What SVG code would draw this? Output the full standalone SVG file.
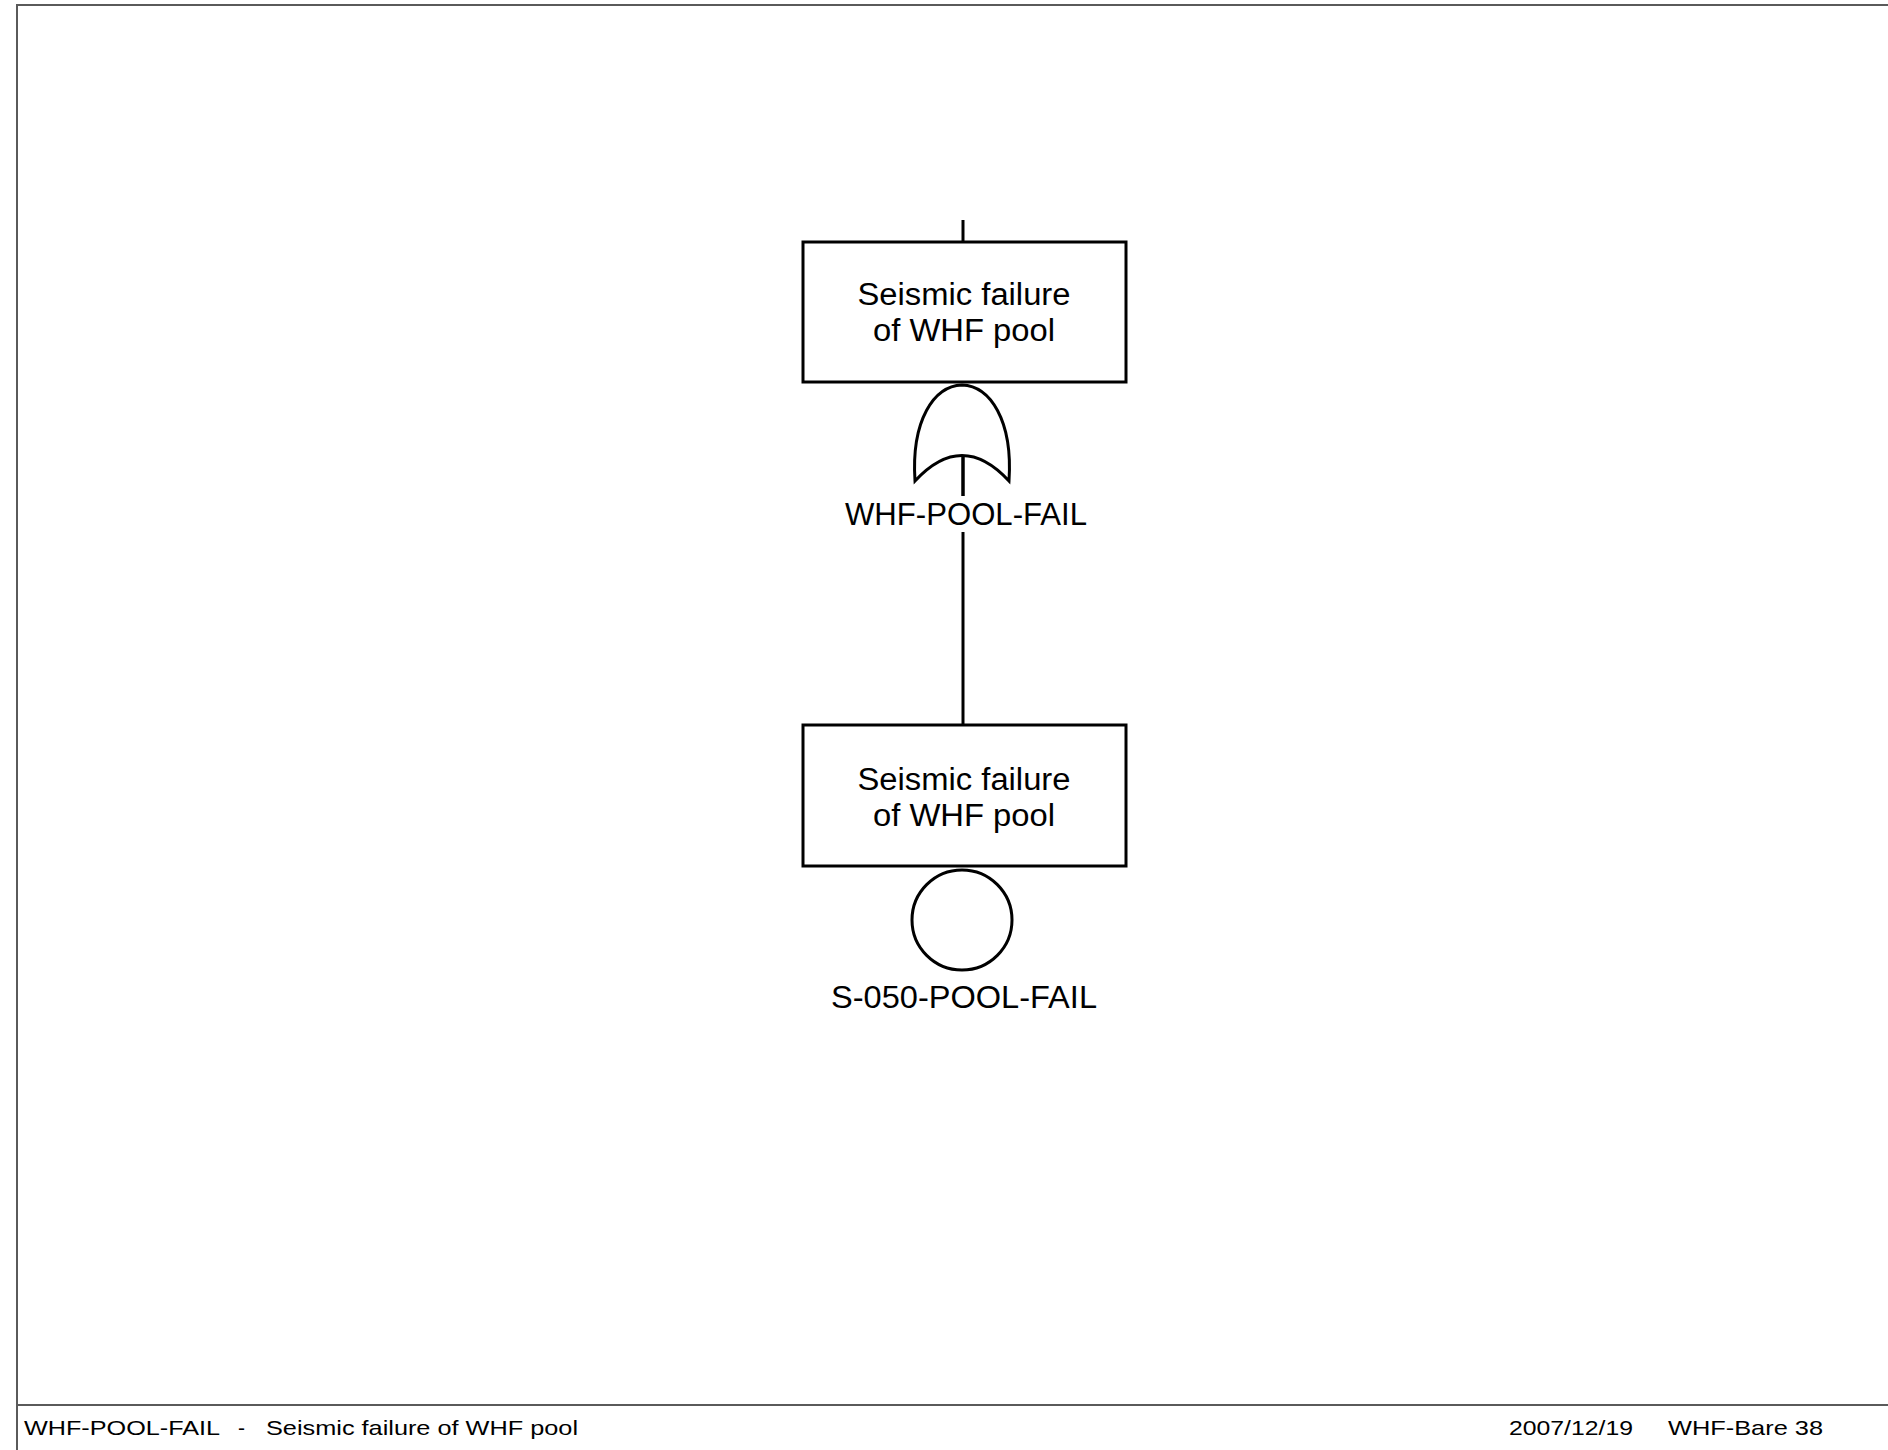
<svg xmlns="http://www.w3.org/2000/svg" width="1888" height="1450" viewBox="0 0 1888 1450">
<style>
.frame{stroke:#5a5a5a;stroke-width:2;fill:none}
.shape{stroke:#000;stroke-width:3;fill:#fff}
.conn{stroke:#000;stroke-width:3;fill:none}
.t{font-family:"Liberation Sans",Arial,sans-serif;font-size:31px;fill:#000;text-anchor:middle}
.f{font-family:"Liberation Sans",Arial,sans-serif;font-size:21px;fill:#000}
</style>
<rect width="1888" height="1450" fill="#fff"/>
<g id="frame">
<line class="frame" x1="16" y1="5" x2="1888" y2="5"/>
<line class="frame" x1="17" y1="5" x2="17" y2="1450" stroke="#8a8a8a"/>
<line class="frame" x1="16" y1="1405" x2="1888" y2="1405"/>
</g>
<g id="connectors">
<line class="conn" x1="963" y1="220" x2="963" y2="242"/>
<line class="conn" x1="963" y1="457" x2="963" y2="496"/>
<line class="conn" x1="963" y1="532" x2="963" y2="725"/>
</g>
<g id="top-event">
<rect class="shape" x="803" y="242" width="323" height="140"/>
<text class="t" x="964" y="305" textLength="213" lengthAdjust="spacingAndGlyphs">Seismic failure</text>
<text class="t" x="964" y="341" textLength="182" lengthAdjust="spacingAndGlyphs">of WHF pool</text>
</g>
<g id="or-gate">
<path class="shape" d="M915 481 C911 420 934 386 962 385 C990 386 1013 420 1009 481 Q962 430 915 481 Z"/>
<line class="conn" x1="963" y1="456" x2="963" y2="496"/>
<text class="t" x="966" y="525" textLength="242" lengthAdjust="spacingAndGlyphs">WHF-POOL-FAIL</text>
</g>
<g id="basic-event">
<rect class="shape" x="803" y="725" width="323" height="141"/>
<text class="t" x="964" y="790" textLength="213" lengthAdjust="spacingAndGlyphs">Seismic failure</text>
<text class="t" x="964" y="826" textLength="182" lengthAdjust="spacingAndGlyphs">of WHF pool</text>
<circle class="shape" cx="962" cy="920" r="50"/>
<text class="t" x="964" y="1008" textLength="266" lengthAdjust="spacingAndGlyphs">S-050-POOL-FAIL</text>
</g>
<g id="footer">
<text class="f" x="24" y="1435" textLength="196" lengthAdjust="spacingAndGlyphs">WHF-POOL-FAIL</text>
<text class="f" x="238" y="1435">-</text>
<text class="f" x="266" y="1435" textLength="312" lengthAdjust="spacingAndGlyphs">Seismic failure of WHF pool</text>
<text class="f" x="1509" y="1435" textLength="124" lengthAdjust="spacingAndGlyphs">2007/12/19</text>
<text class="f" x="1668" y="1435" textLength="155" lengthAdjust="spacingAndGlyphs">WHF-Bare 38</text>
</g>
</svg>
